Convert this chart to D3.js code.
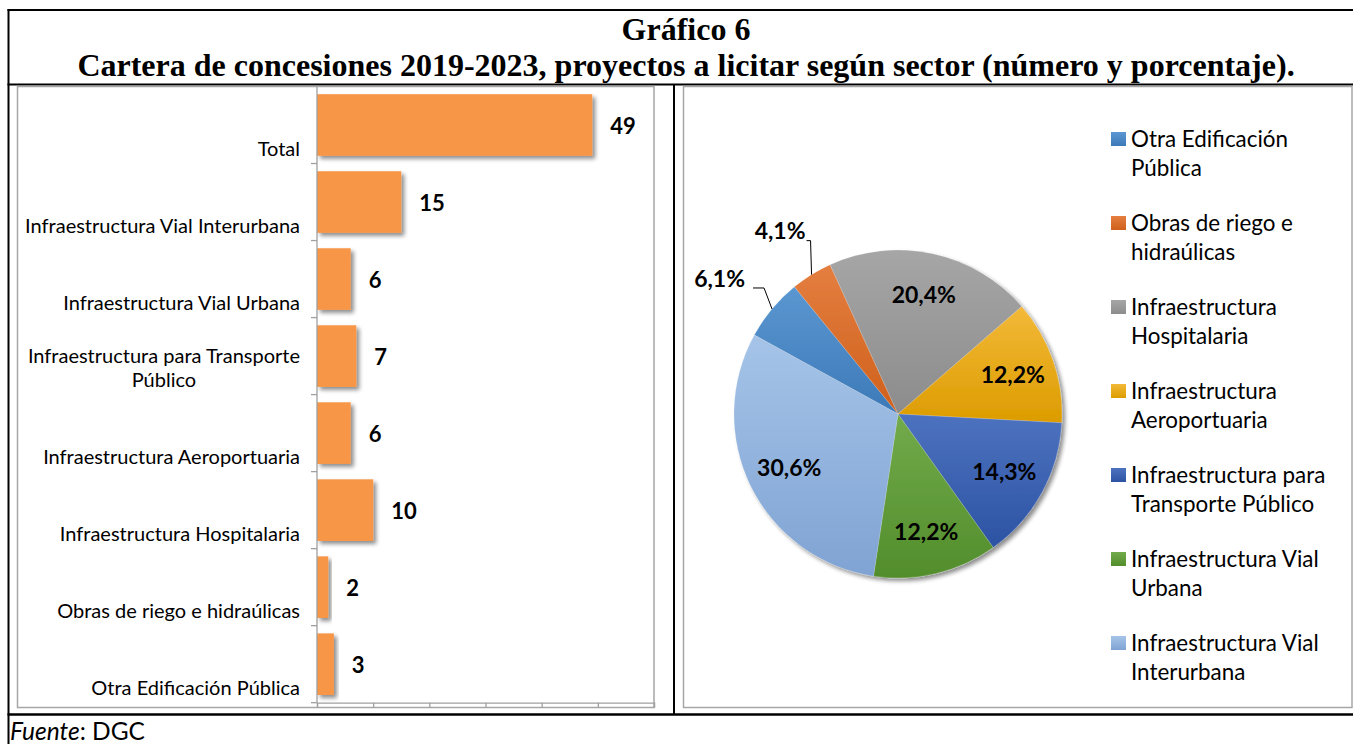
<!DOCTYPE html>
<html>
<head>
<meta charset="utf-8">
<script src="https://cdn.jsdelivr.net/npm/d3@7"></script>
<style>
  html, body { margin: 0; padding: 0; background: #fff; }
  svg { display: block; }
</style>
</head>
<body>
<svg id="chart" width="1353" height="744"></svg>
<script>
// ---------- DATA ----------
const titleLines = ["Gráfico 6", "Cartera de concesiones 2019-2023, proyectos a licitar según sector (número y porcentaje)."];
const categories = [
  "Total",
  "Infraestructura Vial Interurbana",
  "Infraestructura Vial Urbana",
  "Infraestructura para Transporte Público",
  "Infraestructura Aeroportuaria",
  "Infraestructura Hospitalaria",
  "Obras de riego e hidraúlicas",
  "Otra Edificación Pública"
];
const categoryLines = [
  ["Total"],
  ["Infraestructura Vial Interurbana"],
  ["Infraestructura Vial Urbana"],
  ["Infraestructura para Transporte", "Público"],
  ["Infraestructura Aeroportuaria"],
  ["Infraestructura Hospitalaria"],
  ["Obras de riego e hidraúlicas"],
  ["Otra Edificación Pública"]
];
const barValues = [49, 15, 6, 7, 6, 10, 2, 3];
const xTicks = [0, 10, 20, 30, 40, 50, 60];

const pieSectors = [
  "Otra Edificación Pública",
  "Obras de riego e hidraúlicas",
  "Infraestructura Hospitalaria",
  "Infraestructura Aeroportuaria",
  "Infraestructura para Transporte Público",
  "Infraestructura Vial Urbana",
  "Infraestructura Vial Interurbana"
];
const pieValues = [3, 2, 10, 6, 7, 6, 15];
const pieLabels = ["6,1%", "4,1%", "20,4%", "12,2%", "14,3%", "12,2%", "30,6%"];
const legendLines = [
  ["Otra Edificación", "Pública"],
  ["Obras de riego e", "hidraúlicas"],
  ["Infraestructura", "Hospitalaria"],
  ["Infraestructura", "Aeroportuaria"],
  ["Infraestructura para", "Transporte Público"],
  ["Infraestructura Vial", "Urbana"],
  ["Infraestructura Vial", "Interurbana"]
];
const sourceLabel = ["Fuente", ": DGC"];

// ---------- STYLE ----------
const sansFont = "Lato, 'Open Sans', sans-serif";
const serifFont = "'Liberation Serif', 'Times New Roman', serif";
const barColor = "#F79646";
const sliceColors = [
  ["#5b97d1", "#3c79b8"],
  ["#e47e40", "#cf601b"],
  ["#a6a6a6", "#8c8c8c"],
  ["#f3b939", "#dc9c00"],
  ["#4d72bf", "#2c53a3"],
  ["#72ab4b", "#528d2c"],
  ["#a6c4e8", "#7fa3d3"]
];

const svg = d3.select("#chart");
const defs = svg.append("defs");

// shadows
const sh = defs.append("filter").attr("id", "shadow").attr("x", "-20%").attr("y", "-20%").attr("width", "150%").attr("height", "150%");
sh.append("feGaussianBlur").attr("in", "SourceAlpha").attr("stdDeviation", 2.2);
sh.append("feOffset").attr("dx", 2.5).attr("dy", 3).attr("result", "ob");
sh.append("feComponentTransfer").append("feFuncA").attr("type", "linear").attr("slope", 0.45);
const m = sh.append("feMerge");
m.append("feMergeNode");
m.append("feMergeNode").attr("in", "SourceGraphic");

sliceColors.forEach((c, i) => {
  const g = defs.append("linearGradient").attr("id", "grad" + i)
    .attr("x1", 0).attr("y1", 0).attr("x2", 0).attr("y2", 1);
  g.append("stop").attr("offset", "0%").attr("stop-color", c[0]);
  g.append("stop").attr("offset", "100%").attr("stop-color", c[1]);
});

// ---------- FRAME ----------
svg.append("rect").attr("width", 1353).attr("height", 744).attr("fill", "#fff");
const frame = svg.append("g").attr("stroke", "#000").attr("fill", "none");
frame.append("line").attr("x1", 7.5).attr("x2", 1353).attr("y1", 10).attr("y2", 10).attr("stroke-width", 2);
frame.append("line").attr("x1", 8.5).attr("x2", 8.5).attr("y1", 9).attr("y2", 744).attr("stroke-width", 2);
frame.append("line").attr("x1", 7.5).attr("x2", 1353).attr("y1", 84.5).attr("y2", 84.5).attr("stroke-width", 2);
frame.append("line").attr("x1", 674).attr("x2", 674).attr("y1", 84).attr("y2", 714).attr("stroke-width", 2);
frame.append("line").attr("x1", 7.5).attr("x2", 1353).attr("y1", 714.5).attr("y2", 714.5).attr("stroke-width", 2.5);

// gray chart boxes
svg.append("rect").attr("x", 17.5).attr("y", 86.5).attr("width", 636.5).attr("height", 621)
  .attr("fill", "none").attr("stroke", "#a6a6a6").attr("stroke-width", 1.5);
svg.append("rect").attr("x", 683.5).attr("y", 86.5).attr("width", 668.5).attr("height", 621)
  .attr("fill", "none").attr("stroke", "#a6a6a6").attr("stroke-width", 1.5);

// ---------- TITLE ----------
svg.append("g").selectAll("text").data(titleLines).join("text")
  .attr("x", 686).attr("y", (d, i) => i === 0 ? 40 : 76)
  .attr("text-anchor", "middle")
  .attr("font-family", serifFont).attr("font-weight", "bold").attr("font-size", 32)
  .attr("fill", "#000")
  .text(d => d);

// ---------- BAR CHART ----------
const plotLeft = 317, plotRight = 654, plotTop = 86.5, plotBottom = 702.7;
const x = d3.scaleLinear().domain([0, 60]).range([plotLeft, plotRight]);
const y = d3.scaleBand().domain(categories).range([plotTop, plotBottom]).paddingInner(0.2).paddingOuter(0.1);

const barG = svg.append("g");
barG.selectAll("rect.bar").data(barValues).join("rect")
  .attr("class", "bar")
  .attr("x", x(0)).attr("y", (d, i) => y(categories[i]))
  .attr("width", d => x(d) - x(0)).attr("height", y.bandwidth())
  .attr("fill", barColor).attr("filter", "url(#shadow)");

// x axis (ticks only)
const xAxis = d3.axisBottom(x).tickValues(xTicks).tickSize(5).tickFormat("");
const xg = svg.append("g").attr("transform", `translate(0,${plotBottom})`).call(xAxis);
xg.select(".domain").attr("stroke", "#a0a0a0").attr("stroke-width", 1.3);
xg.selectAll(".tick line").attr("stroke", "#a0a0a0").attr("stroke-width", 1.3);

// y axis: line and boundary ticks
const boundaries = d3.range(categories.length + 1).map(i => plotTop + i * (plotBottom - plotTop) / categories.length);
const yg = svg.append("g");
yg.append("line").attr("x1", plotLeft).attr("x2", plotLeft).attr("y1", plotTop).attr("y2", plotBottom)
  .attr("stroke", "#a0a0a0").attr("stroke-width", 1.3);
yg.selectAll("line.tk").data(boundaries.slice(1)).join("line").attr("class", "tk")
  .attr("x1", plotLeft - 6).attr("x2", plotLeft).attr("y1", d => d).attr("y2", d => d)
  .attr("stroke", "#a0a0a0").attr("stroke-width", 1.3);

// category labels
const catG = svg.append("g").attr("font-family", sansFont).attr("font-size", 20).attr("fill", "#000");
categoryLines.forEach((lines, i) => {
  const bottom = boundaries[i + 1];
  const lh = 24;
  const g = catG.append("g");
  const texts = g.selectAll("text").data(lines).join("text")
    .attr("y", (d, j) => bottom - 8 - (lines.length - 1 - j) * lh)
    .text(d => d);
  if (lines.length === 1) {
    texts.attr("x", 300).attr("text-anchor", "end");
  } else {
    let w = 0;
    texts.each(function () { w = Math.max(w, this.getComputedTextLength()); });
    texts.attr("x", 300 - w / 2).attr("text-anchor", "middle");
  }
});

// value labels
svg.append("g").selectAll("text").data(barValues).join("text")
  .attr("x", d => x(d) + 18)
  .attr("y", (d, i) => y(categories[i]) + y.bandwidth() / 2 + 9)
  .attr("font-family", sansFont).attr("font-weight", "bold").attr("font-size", 22)
  .attr("fill", "#000")
  .text(d => d);

// ---------- PIE ----------
const cx = 898, cy = 414, R = 164;
const startDeg = -61.2;
const pie = d3.pie().sort(null).value(d => d)
  .startAngle(startDeg * Math.PI / 180).endAngle(startDeg * Math.PI / 180 + 2 * Math.PI);
const arcs = pie(pieValues);
const arc = d3.arc().innerRadius(0).outerRadius(R);
const pieG = svg.append("g").attr("transform", `translate(${cx},${cy})`);
pieG.append("g").attr("filter", "url(#shadow)")
  .selectAll("path").data(arcs).join("path")
  .attr("d", arc)
  .attr("fill", (d, i) => `url(#grad${i})`)
  .attr("stroke", "rgba(255,255,255,0.35)").attr("stroke-width", 0.5);

const polar = (a, r) => [r * Math.sin(a), -r * Math.cos(a)];
const labelArcR = R * 0.74;
const labelG = pieG.append("g").attr("font-family", sansFont).attr("font-weight", "bold")
  .attr("font-size", 23).attr("fill", "#000");
let outsideIndex = 0;
arcs.forEach((a, i) => {
  const mid = (a.startAngle + a.endAngle) / 2;
  const frac = a.value / d3.sum(pieValues);
  if (frac > 0.08) {
    const p = polar(mid, labelArcR);
    labelG.append("text").attr("x", p[0]).attr("y", p[1] + 8)
      .attr("text-anchor", "middle").text(pieLabels[i]);
  } else {
    const edge = polar(mid, R);
    const rise = outsideIndex === 0 ? 21 : 34;
    const lean = outsideIndex === 0 ? 8 : 1;
    const run = outsideIndex === 0 ? 11 : 4;
    const elbow = [edge[0] - lean, edge[1] - rise];
    const end = [elbow[0] - run, elbow[1]];
    pieG.append("polyline")
      .attr("points", [edge, elbow, end].map(q => q.join(",")).join(" "))
      .attr("fill", "none").attr("stroke", "#000").attr("stroke-width", 1);
    labelG.append("text")
      .attr("x", end[0] - (outsideIndex === 0 ? 8 : 1)).attr("y", end[1] - (outsideIndex === 0 ? 1 : 2))
      .attr("text-anchor", "end").text(pieLabels[i]);
    outsideIndex++;
  }
});

// ---------- LEGEND ----------
const legG = svg.append("g").attr("font-family", sansFont).attr("font-size", 22.4).attr("fill", "#000");
legendLines.forEach((lines, i) => {
  const top = 132 + i * 84;
  legG.append("rect").attr("x", 1111).attr("y", top).attr("width", 15).attr("height", 14)
    .attr("fill", `url(#grad${i})`);
  legG.selectAll(null).data(lines).join("text")
    .attr("x", 1131).attr("y", (d, j) => top + 14.5 + j * 29.5)
    .text(d => d);
});

// ---------- SOURCE ----------
const src = svg.append("text").attr("x", 10).attr("y", 740)
  .attr("font-family", sansFont).attr("font-size", 24.5).attr("fill", "#000");
src.append("tspan").attr("font-style", "italic").text(sourceLabel[0]);
src.append("tspan").text(sourceLabel[1]);
</script>
</body>
</html>
